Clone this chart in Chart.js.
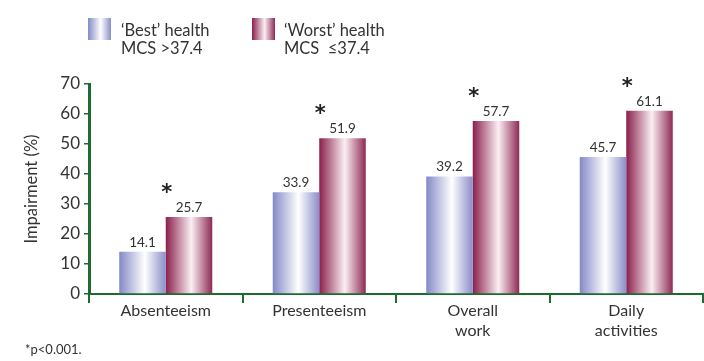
<!DOCTYPE html>
<html>
<head>
<meta charset="utf-8">
<script src="https://cdn.jsdelivr.net/npm/chart.js@4/dist/chart.umd.min.js"></script>
<style>
  body { margin: 0; background: #fff; font-family: Lato, sans-serif; color: #333; }
  #wrap { position: relative; width: 704px; height: 361px; }
  #wrap canvas { position: absolute; left: 0; top: 0; }
  .sw { position: absolute; top: 18px; width: 23px; height: 22px; }
  .key { position: absolute; top: 21px; font-size: 16.5px; line-height: 18px; white-space: pre; }
  .note { position: absolute; left: 25px; top: 341px; font-size: 13px; }
</style>
</head>
<body>
<div id="wrap">
  <canvas id="myBarChart" width="704" height="361"></canvas>
  <div class="sw" style="left:88px;background:linear-gradient(90deg,#8489c6,#ffffff 55%,#8a8ec8)"></div>
  <div class="key" style="left:121px">‘Best’ health
MCS &gt;37.4</div>
  <div class="sw" style="left:252px;background:linear-gradient(90deg,#8a1f4c,#fbeff3 55%,#8e2a55)"></div>
  <div class="key" style="left:284px">‘Worst’ health
MCS  ≤37.4</div>
  <div class="note">*p&lt;0.001.</div>
</div>
<script>
const categories = ["Absenteeism", "Presenteeism", ["Overall", "work"], ["Daily", "activities"]];
const seriesNames = ["'Best' health MCS >37.4", "'Worst' health MCS ≤37.4"];
const bestHealth = [14.1, 33.9, 39.2, 45.7];
const worstHealth = [25.7, 51.9, 57.7, 61.1];
const significant = [true, true, true, true];
const yMin = 0;
const yMax = 70;
const yStep = 10;

const green = "#1d6b2f";
const textColor = "#333";
const font = "Lato, sans-serif";

// gradient stops per dataset (left edge, highlight, right edge)
const stops = [
  ["#8489c6", "#ffffff", "#8a8ec8"],
  ["#8a1f4c", "#fbeff3", "#8e2a55"],
];

const gradientBars = {
  id: "gradientBars",
  beforeDatasetsDraw(chart) {
    const ctx = chart.ctx;
    chart.data.datasets.forEach((ds, i) => {
      chart.getDatasetMeta(i).data.forEach((el) => {
        const g = ctx.createLinearGradient(el.x - el.width / 2, 0, el.x + el.width / 2, 0);
        g.addColorStop(0, stops[i][0]);
        g.addColorStop(0.55, stops[i][1]);
        g.addColorStop(1, stops[i][2]);
        el.options = Object.assign({}, el.options, { backgroundColor: g });
      });
    });
  },
};

const valueLabels = {
  id: "valueLabels",
  afterDatasetsDraw(chart) {
    const ctx = chart.ctx;
    ctx.save();
    ctx.fillStyle = textColor;
    ctx.textAlign = "center";
    ctx.textBaseline = "alphabetic";
    chart.data.datasets.forEach((ds, i) => {
      chart.getDatasetMeta(i).data.forEach((el, j) => {
        ctx.font = "13.5px " + font;
        ctx.fillText(ds.data[j].toFixed(1), el.x, el.y - 5);
      });
    });
    const blue = chart.getDatasetMeta(0).data;
    const red = chart.getDatasetMeta(1).data;
    ctx.fillStyle = "#222";
    ctx.font = "bold 21px 'DejaVu Sans'";
    red.forEach((el, j) => {
      if (!significant[j]) return;
      ctx.fillText("*", (blue[j].x + el.x) / 2 + 1, el.y - 18);
    });
    ctx.restore();
  },
};

window.onload = function () {
  const ctx = document.getElementById("myBarChart").getContext("2d");

  new Chart(ctx, {
    type: "bar",
    data: {
      labels: categories,
      datasets: [
        { label: seriesNames[0], data: bestHealth, backgroundColor: stops[0][0] },
        { label: seriesNames[1], data: worstHealth, backgroundColor: stops[1][0] },
      ],
    },
    options: {
      responsive: false,
      animation: false,
      layout: { padding: { top: 84, right: 1, left: 0, bottom: 0 } },
      datasets: {
        bar: { barPercentage: 1, categoryPercentage: 0.606, borderWidth: 0 },
      },
      plugins: {
        legend: { display: false },
        title: { display: false },
        tooltip: { enabled: false },
      },
      scales: {
        x: {
          offset: true,
          grid: {
            offset: true,
            drawOnChartArea: false,
            color: green,
            lineWidth: 2,
            tickLength: 9,
          },
          border: { color: green, width: 2 },
          ticks: {
            color: textColor,
            padding: -2,
            font: { size: 16, family: font, lineHeight: 1.25 },
          },
          afterFit: (scale) => { scale.height = 67; },
        },
        y: {
          min: yMin,
          max: yMax,
          ticks: {
            stepSize: yStep,
            color: textColor,
            padding: 4,
            font: { size: 17, family: font },
          },
          grid: {
            drawOnChartArea: false,
            color: green,
            lineWidth: 1.5,
            tickLength: 5,
          },
          border: { color: green, width: 3 },
          title: {
            display: true,
            text: "Impairment (%)",
            color: textColor,
            padding: { top: 22, bottom: 0 },
            font: { size: 16.5, family: font },
          },
          afterFit: (scale) => { scale.width = 89; },
        },
      },
    },
    plugins: [gradientBars, valueLabels],
  });
};
</script>
</body>
</html>
